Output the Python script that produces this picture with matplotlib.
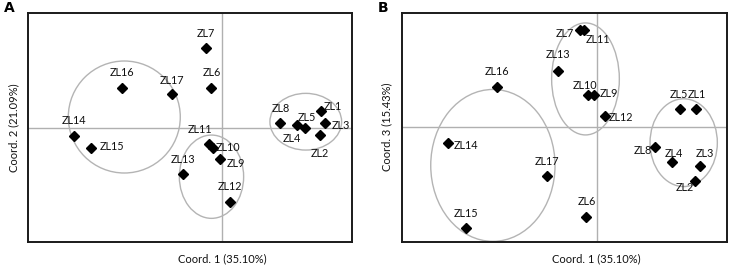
import matplotlib
matplotlib.use('Agg')
import matplotlib.pyplot as plt
from matplotlib.patches import Ellipse

plt.rcParams['font.family'] = ['Lato', 'DejaVu Sans']

# sample names and principal coordinates
names = ['ZL1', 'ZL2', 'ZL3', 'ZL4', 'ZL5', 'ZL6', 'ZL7', 'ZL8', 'ZL9',
         'ZL10', 'ZL11', 'ZL12', 'ZL13', 'ZL14', 'ZL15', 'ZL16', 'ZL17']
coord1 = [0.99, 0.98, 1.03, 0.755, 0.83, -0.105, -0.163, 0.585, -0.023,
          -0.09, -0.127, 0.082, -0.39, -1.482, -1.31, -0.998, -0.497]
coord2 = [0.17, -0.07, 0.047, 0.027, 0.003, 0.397, 0.803, 0.047, -0.31,
          -0.197, -0.157, -0.737, -0.457, -0.083, -0.20, 0.403, 0.337]
coord3 = [0.18, -0.537, -0.387, -0.353, 0.18, -0.903, 0.97, -0.203, 0.32,
          0.32, 0.97, 0.11, 0.563, -0.163, -1.017, 0.397, -0.49]

axis_labels = ['Coord. 1 (35.10%)', 'Coord. 2 (21.09%)', 'Coord. 3 (15.43%)']
panel_tags = ['A', 'B']

# group ellipses: (center x, center y, width, height)
groups_a = [(-0.977, 0.11, 1.12, 1.12), (-0.105, -0.487, 0.643, 0.833),
            (0.838, 0.063, 0.717, 0.567)]
groups_b = [(-1.038, -0.385, 1.243, 1.523), (-0.112, 0.482, 0.677, 1.123),
            (0.87, -0.157, 0.673, 0.88)]

# label offsets in pixels (dx, dy)
offs_a = {'ZL1': (12, 5), 'ZL2': (0, -18), 'ZL3': (16, -2), 'ZL4': (-6, -13),
          'ZL5': (2, 10), 'ZL6': (0, 16), 'ZL7': (0, 14), 'ZL8': (0, 15),
          'ZL9': (16, -4), 'ZL10': (15, 0), 'ZL11': (-9, 14), 'ZL12': (0, 15),
          'ZL13': (0, 14), 'ZL14': (0, 16), 'ZL15': (21, 2), 'ZL16': (0, 15),
          'ZL17': (0, 14)}
offs_b = {'ZL1': (1, 15), 'ZL2': (-10, -7), 'ZL3': (5, 12), 'ZL4': (2, 9),
          'ZL5': (-1, 15), 'ZL6': (1, 16), 'ZL7': (-16, -3), 'ZL8': (-12, -3),
          'ZL9': (15, 2), 'ZL10': (-3, 10), 'ZL11': (14, -9), 'ZL12': (16, -1),
          'ZL13': (0, 16), 'ZL14': (18, -2), 'ZL15': (0, 15), 'ZL16': (0, 16),
          'ZL17': (0, 14)}

fig = plt.figure(figsize=(7.31, 2.70), dpi=100)
ax_a = fig.add_axes([0.0383, 0.1037, 0.4432, 0.8481])
ax_b = fig.add_axes([0.5495, 0.1037, 0.4446, 0.8481])


def draw_panel(ax, xs, ys, groups, offs, ylabel, tag, xlim, ylim):
    ax.set_xlim(*xlim)
    ax.set_ylim(*ylim)
    ax.set_xticks([])
    ax.set_yticks([])
    for sp in ax.spines.values():
        sp.set_linewidth(1.4)
        sp.set_color('#1a1a1a')
    ax.axhline(0, color='#b0b0b0', lw=1.0, zorder=1)
    ax.axvline(0, color='#b0b0b0', lw=1.0, zorder=1)
    for cx, cy, w, h in groups:
        ax.add_patch(Ellipse((cx, cy), w, h, fill=False, ec='#b4b4b4', lw=1.0, zorder=2))
    ax.plot(xs, ys, 'D', color='black', ms=4.8, ls='none', zorder=3)
    for n, x, y in zip(names, xs, ys):
        dx, dy = offs[n]
        ax.annotate(n, (x, y), xytext=(dx, dy), textcoords='offset pixels',
                    ha='center', va='center', fontsize=7.8, color='#111111')
    ax.text(0, -0.075, axis_labels[0], transform=ax.get_xaxis_transform(),
            ha='center', va='center', fontsize=8, color='#111111')
    ax.text(-0.045, 0, ylabel, transform=ax.get_yaxis_transform(),
            ha='center', va='center', rotation=90, fontsize=8, color='#111111')
    ax.text(-0.075, 1.02, tag, transform=ax.transAxes, ha='left', va='center',
            fontsize=10, fontweight='bold', family='DejaVu Sans')


draw_panel(ax_a, coord1, coord2, groups_a, offs_a, axis_labels[1], panel_tags[0],
           (-1.94, 1.30), (-1.14, 1.15))
draw_panel(ax_b, coord1, coord3, groups_b, offs_b, axis_labels[2], panel_tags[1],
           (-1.95, 1.30), (-1.153, 1.143))

fig.savefig('out.png', dpi=100)
